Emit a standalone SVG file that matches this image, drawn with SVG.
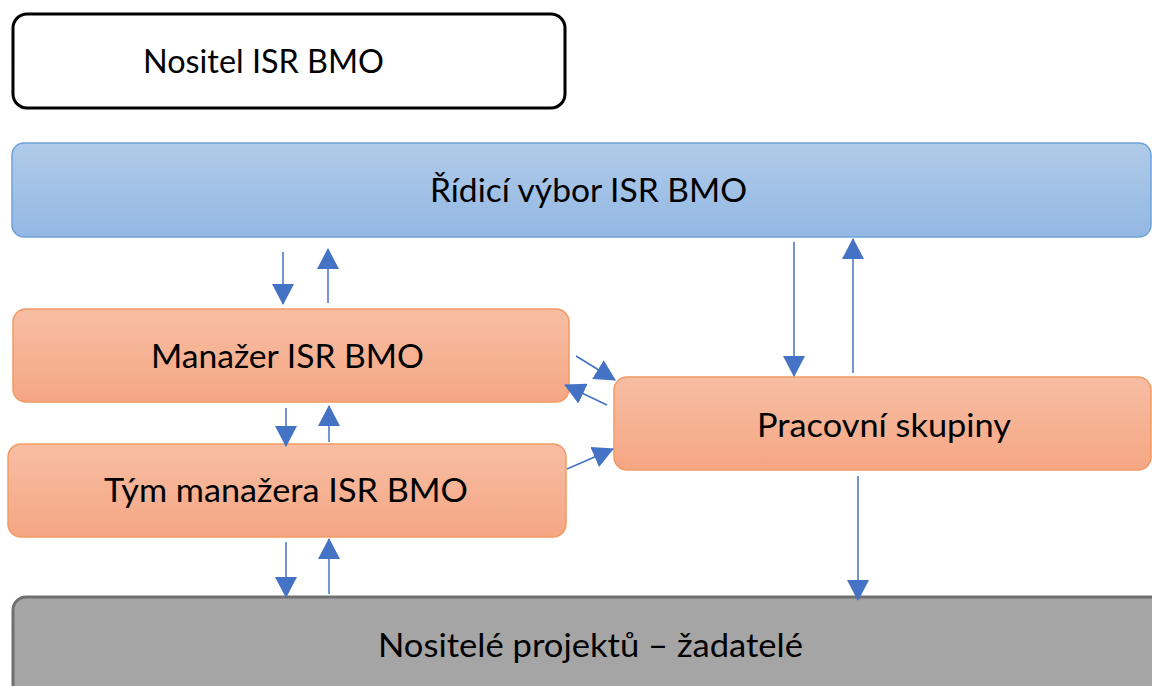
<svg xmlns="http://www.w3.org/2000/svg" width="1152" height="686" viewBox="0 0 1152 686">
  <style>
    .lbl { font-family: Lato, "Open Sans", "Liberation Sans", sans-serif; font-size: 33px; fill: #000; }
    .orange { fill: url(#gOrange); stroke: #f19a63; stroke-width: 1.5; }
    .conn { stroke: #4472c4; stroke-width: 1.5; fill: none; marker-end: url(#ah); }
  </style>
  <defs>
    <linearGradient id="gBlue" x1="0" y1="0" x2="0" y2="1">
      <stop offset="0" stop-color="#b0cbe9"/>
      <stop offset="1" stop-color="#93b8e3"/>
    </linearGradient>
    <linearGradient id="gOrange" x1="0" y1="0" x2="0" y2="1">
      <stop offset="0" stop-color="#f7bea4"/>
      <stop offset="1" stop-color="#f5a683"/>
    </linearGradient>
    <marker id="ah" viewBox="0 0 21 22" refX="20" refY="11" markerWidth="21" markerHeight="22" markerUnits="userSpaceOnUse" orient="auto">
      <path d="M0,0 L21,11 L0,22 z" fill="#4472c4"/>
    </marker>
  </defs>
  <rect width="1152" height="686" fill="#fff"/>

  <g id="nositel">
    <rect x="13" y="14" width="552" height="94" rx="14" fill="#fff" stroke="#000" stroke-width="3"/>
    <text class="lbl" x="143" y="73" textLength="241" lengthAdjust="spacingAndGlyphs">Nositel ISR BMO</text>
  </g>

  <g id="ridici-vybor">
    <rect x="12" y="143" width="1139" height="94" rx="12" fill="url(#gBlue)" stroke="#6fa2da" stroke-width="1.5"/>
    <text class="lbl" x="430" y="202" textLength="317" lengthAdjust="spacingAndGlyphs">Řídicí výbor ISR BMO</text>
  </g>

  <g id="manazer">
    <rect class="orange" x="13" y="309" width="556" height="93" rx="13"/>
    <text class="lbl" x="151" y="368" textLength="273" lengthAdjust="spacingAndGlyphs">Manažer ISR BMO</text>
  </g>

  <g id="tym-manazera">
    <rect class="orange" x="8" y="444" width="558" height="93" rx="13"/>
    <text class="lbl" x="104" y="502" textLength="364" lengthAdjust="spacingAndGlyphs">Tým manažera ISR BMO</text>
  </g>

  <g id="pracovni-skupiny">
    <rect class="orange" x="614" y="377" width="537" height="93" rx="13"/>
    <text class="lbl" x="757" y="437" textLength="254" lengthAdjust="spacingAndGlyphs">Pracovní skupiny</text>
  </g>

  <g id="nositele-projektu">
    <rect x="13" y="597" width="1160" height="110" rx="13" fill="#a5a5a5" stroke="#707070" stroke-width="3"/>
    <text class="lbl" x="378" y="657" textLength="425" lengthAdjust="spacingAndGlyphs">Nositelé projektů – žadatelé</text>
  </g>

  <g id="connectors">
    <line class="conn" x1="283" y1="252" x2="283" y2="304"/>
    <line class="conn" x1="328" y1="303" x2="328" y2="249"/>
    <line class="conn" x1="286" y1="408" x2="286" y2="446"/>
    <line class="conn" x1="329" y1="442" x2="329" y2="406"/>
    <line class="conn" x1="286" y1="542" x2="286" y2="597"/>
    <line class="conn" x1="329" y1="594" x2="329" y2="539"/>
    <line class="conn" x1="794" y1="242" x2="794" y2="376"/>
    <line class="conn" x1="853" y1="373" x2="853" y2="239"/>
    <line class="conn" x1="858" y1="476" x2="858" y2="600"/>
    <line class="conn" x1="576" y1="356" x2="615" y2="380"/>
    <line class="conn" x1="607" y1="405" x2="565" y2="385"/>
    <line class="conn" x1="567" y1="469" x2="613" y2="449"/>
  </g>
</svg>
